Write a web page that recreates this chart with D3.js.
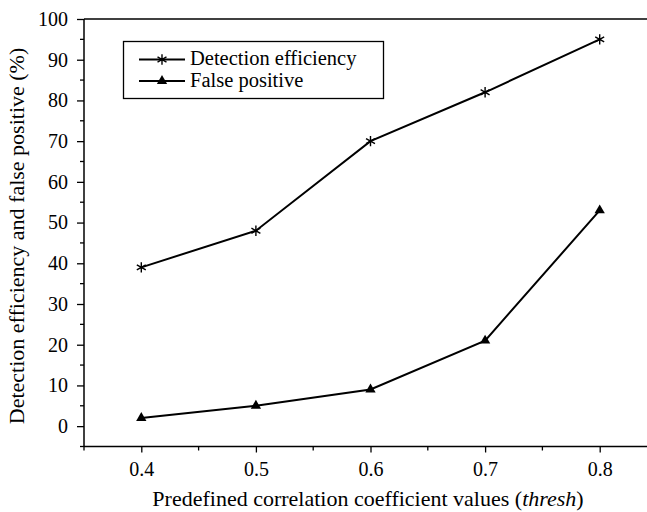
<!DOCTYPE html>
<html><head><meta charset="utf-8">
<script src="https://cdn.jsdelivr.net/npm/d3@7"></script>
</head><body style="margin:0">
<svg id="c" width="647" height="512" style="display:block;font-family:'Liberation Serif'"></svg>
<script>
const thresh = [0.4, 0.5, 0.6, 0.7, 0.8];
const detection = [39, 48, 70, 82, 95];
const falsePositive = [2, 5, 9, 21, 53];
const xTicks = [0.4, 0.5, 0.6, 0.7, 0.8];
const yTicks = [0, 10, 20, 30, 40, 50, 60, 70, 80, 90, 100];
const seriesNames = ["Detection efficiency", "False positive"];

const svg = d3.select("#c");
const FF = '"Liberation Serif"';
const L = 84, T = 19, R = 657, B = 446.5;
const x = d3.scaleLinear().domain([0.35, 0.85]).range([L, R]);
const y = d3.scaleLinear().domain([-5, 100]).range([B, T]);

svg.append("line").attr("x1", L).attr("x2", 647).attr("y1", T).attr("y2", T).attr("stroke", "#000").attr("stroke-width", 1.5);

const xAxis = d3.axisBottom(x).tickValues(xTicks).tickFormat(d3.format(".1f")).tickSize(6).tickPadding(9);
const gx = svg.append("g").attr("transform", `translate(0,${B})`).call(xAxis);
gx.attr("font-family", null).attr("font-size", null);
gx.select(".domain").attr("stroke-width", 1.5).attr("d", `M${L},0H647`);
gx.selectAll("text").attr("fill", "#000").style("font-family", FF).attr("font-size", 20);
gx.selectAll(".tick line").attr("stroke-width", 1.3);
const xMinor = [0.35, 0.45, 0.55, 0.65, 0.75];
gx.selectAll(".minor").data(xMinor).enter().append("line")
  .attr("x1", d => x(d)).attr("x2", d => x(d)).attr("y1", 0).attr("y2", 4)
  .attr("stroke", "#000").attr("stroke-width", 1.3);

const yAxis = d3.axisLeft(y).tickValues(yTicks).tickSize(7).tickPadding(9);
const gy = svg.append("g").attr("transform", `translate(${L},0)`).call(yAxis);
gy.attr("font-family", null).attr("font-size", null);
gy.select(".domain").attr("stroke-width", 1.5).attr("d", `M0,${B}V${T}`);
gy.selectAll("text").attr("fill", "#000").style("font-family", FF).attr("font-size", 20);
gy.selectAll(".tick line").attr("stroke-width", 1.3);
const yMinor = [-5, 5, 15, 25, 35, 45, 55, 65, 75, 85, 95];
gy.selectAll(".minor").data(yMinor).enter().append("line")
  .attr("x1", -4).attr("x2", 0).attr("y1", d => y(d)).attr("y2", d => y(d))
  .attr("stroke", "#000").attr("stroke-width", 1.3);

const xt = svg.append("text").attr("x", 368).attr("y", 506).attr("text-anchor", "middle")
  .style("font-family", FF).attr("font-size", 22);
xt.append("tspan").text("Predefined correlation coefficient values (");
xt.append("tspan").attr("font-style", "italic").text("thresh");
xt.append("tspan").text(")");
svg.append("text").attr("transform", `translate(24,236) rotate(-90)`)
  .attr("text-anchor", "middle").style("font-family", FF).attr("font-size", 22)
  .text("Detection efficiency and false positive (%)");

const line = d3.line().x((d, i) => x(thresh[i])).y(d => y(d));
[detection, falsePositive].forEach(s => {
  svg.append("path").attr("d", line(s)).attr("fill", "none").attr("stroke", "#000").attr("stroke-width", 2);
});

const star = d3.symbol().type(d3.symbolAsterisk).size(75);
const tri = d3.symbol().type(d3.symbolTriangle).size(46);
function drawStar(g, cx, cy) {
  g.append("path").attr("d", star()).attr("transform", `translate(${cx},${cy})`)
   .attr("fill", "none").attr("stroke", "#000").attr("stroke-width", 1.4);
}
function drawTri(g, cx, cy) {
  g.append("path").attr("d", tri()).attr("transform", `translate(${cx},${cy})`).attr("fill", "#000");
}
detection.forEach((d, i) => drawStar(svg, x(thresh[i]), y(d)));
falsePositive.forEach((d, i) => drawTri(svg, x(thresh[i]), y(d)));

const lg = svg.append("g");
lg.append("rect").attr("x", 123.5).attr("y", 41.5).attr("width", 260).attr("height", 57)
  .attr("fill", "#fff").attr("stroke", "#000").attr("stroke-width", 1.3);
seriesNames.forEach((n, i) => {
  const yy = 59.5 + i * 21.5;
  lg.append("line").attr("x1", 139).attr("x2", 185).attr("y1", yy).attr("y2", yy).attr("stroke", "#000").attr("stroke-width", 2);
  if (i === 0) drawStar(lg, 162, yy); else drawTri(lg, 162, yy);
  lg.append("text").attr("x", 190).attr("y", yy + 5.5).style("font-family", FF).attr("font-size", 20.5).text(n);
});
</script>
</body></html>
